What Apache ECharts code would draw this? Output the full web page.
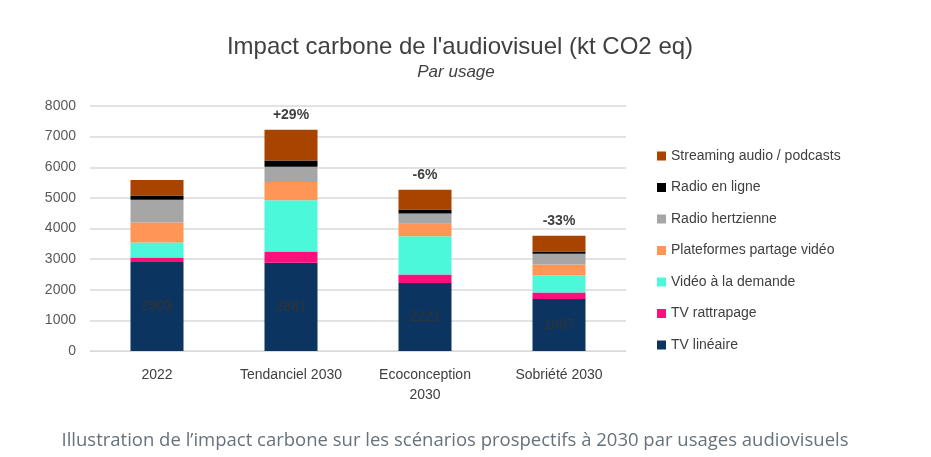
<!DOCTYPE html>
<html><head><meta charset="utf-8">
<script src="https://cdn.jsdelivr.net/npm/echarts@6/dist/echarts.min.js"></script>
<style>html,body{margin:0;padding:0;background:#fff}#c{width:931px;height:457px}</style>
</head><body><div id="c"></div>
<script>
const categories = ["2022", "Tendanciel 2030", "Ecoconception\n2030", "Sobriété 2030"];
const seriesNames = ["TV linéaire", "TV rattrapage", "Vidéo à la demande", "Plateformes partage vidéo", "Radio hertzienne", "Radio en ligne", "Streaming audio / podcasts"];
const tvLineaire = [2903, 2881, 2221, 1697];
const tvRattrapage = [150, 367, 275, 210];
const videoDemande = [490, 1678, 1253, 556];
const plateformes = [654, 589, 404, 360];
const radioHertz = [741, 501, 337, 349];
const radioLigne = [142, 207, 131, 76];
const streamingAudio = [500, 1003, 643, 512];
const pctLabels = ["", "+29%", "-6%", "-33%"];
const yTicks = [0, 1000, 2000, 3000, 4000, 5000, 6000, 7000, 8000];
const colors = ["#0b3560", "#ff0f7b", "#4cf8da", "#ff9656", "#a6a6a6", "#000000", "#a84300"];
const allData = [tvLineaire, tvRattrapage, videoDemande, plateformes, radioHertz, radioLigne, streamingAudio];

const series = allData.map((d, i) => ({
  name: seriesNames[i], type: 'bar', stack: 'total', barWidth: 53, data: d,
  itemStyle: { color: colors[i] },
  label: i === 0 ? { show: true, position: 'inside', color: '#333', fontSize: 14, fontFamily: 'Liberation Sans' } :
         i === 6 ? { show: true, position: 'top', distance: 8, color: '#404040', fontSize: 14, fontWeight: 'bold', fontFamily: 'Liberation Sans', formatter: p => pctLabels[p.dataIndex] } :
         { show: false }
}));

const chart = echarts.init(document.getElementById('c'), null, { renderer: 'canvas' });
chart.setOption({
  animation: false,
  title: [
    { text: "Impact carbone de l'audiovisuel (kt CO2 eq)", left: 455, textAlign: 'center', top: 30, textStyle: { fontSize: 24, fontWeight: 'normal', color: '#404040', fontFamily: 'Liberation Sans' } },
    { text: "Par usage", left: 451, textAlign: 'center', top: 59, textStyle: { fontSize: 17, fontWeight: 'normal', fontStyle: 'italic', color: '#404040', fontFamily: 'Liberation Sans' } },
    { text: "Illustration de l\u2019impact carbone sur les scénarios prospectifs à 2030 par usages audiovisuels", left: 450, textAlign: 'center', top: 426, textStyle: { fontSize: 18.5, fontWeight: 'normal', color: '#66727c', fontFamily: 'Open Sans' } }
  ],
  grid: { left: 90, right: 305, top: 106, bottom: 106 },
  legend: {
    orient: 'vertical', left: 652, top: 144, itemWidth: 9, itemHeight: 9, itemGap: 17.5,
    icon: 'rect', textStyle: { fontSize: 14, color: '#404040', fontFamily: 'Liberation Sans' },
    data: seriesNames.slice().reverse()
  },
  xAxis: {
    type: 'category', data: categories,
    axisLine: { lineStyle: { color: '#d9d9d9' } }, axisTick: { show: false },
    axisLabel: { fontSize: 14, color: '#404040', margin: 14, fontFamily: 'Liberation Sans', lineHeight: 20 }
  },
  yAxis: {
    type: 'value', min: 0, max: 8000, interval: 1000,
    axisLine: { show: false }, axisTick: { show: false },
    axisLabel: { fontSize: 14, color: '#595959', margin: 14, fontFamily: 'Liberation Sans', formatter: v => yTicks.includes(v) ? String(v) : '' },
    splitLine: { lineStyle: { color: '#d9d9d9', width: 1.5 } }
  },
  series: series
});
</script></body></html>
